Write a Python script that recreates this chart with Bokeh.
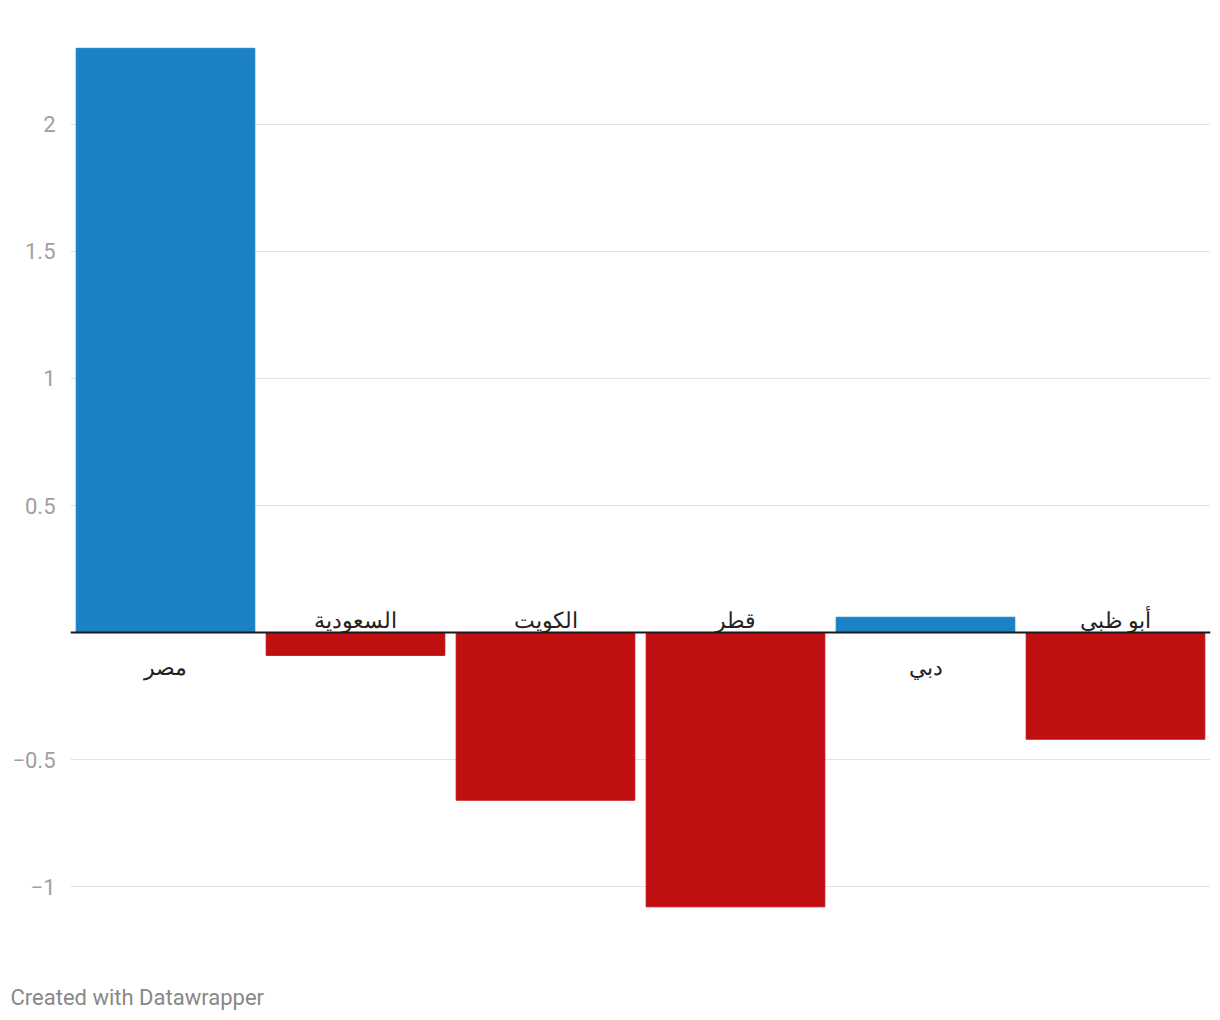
from bokeh.plotting import figure
from bokeh.models import ColumnDataSource, Span, FixedTicker, Title
from bokeh.embed import file_html
from bokeh.resources import INLINE
from bokeh.core.properties import value

categories = ["مصر", "السعودية", "الكويت", "قطر", "دبي", "أبو ظبي"]
values = [2.3, -0.09, -0.66, -1.08, 0.06, -0.42]
tick_values = [-1, -0.5, 0.5, 1, 1.5, 2]
tick_labels = {-1: "−1", -0.5: "−0.5", 0.5: "0.5", 1: "1", 1.5: "1.5", 2: "2"}

BLUE = "#1b82c5"
RED = "#c00f10"

colors = [BLUE if v >= 0 else RED for v in values]
lbl_offset = [33 if v >= 0 else -14 for v in values]
zeros = [0] * len(values)

src = ColumnDataSource(dict(cat=categories, val=values, color=colors,
                            off=lbl_offset, zero=zeros))

p = figure(x_range=categories, y_range=(-1.35039, 2.37795),
           width=1220, height=1020, output_backend="svg", toolbar_location=None,
           min_border_left=70, min_border_right=10, min_border_top=28, min_border_bottom=45)
p.outline_line_color = None
p.background_fill_color = "white"
p.border_fill_color = "white"
p.x_range.range_padding = 0

p.vbar(x="cat", top="val", bottom=0, width=0.94, color="color", source=src)

p.xaxis.visible = False
p.xgrid.visible = False

yaxis = p.yaxis[0]
yaxis.ticker = FixedTicker(ticks=tick_values)
yaxis.major_label_overrides = tick_labels
yaxis.axis_line_color = None
yaxis.major_tick_line_color = None
yaxis.minor_tick_line_color = None
yaxis.major_label_text_color = "#a0a0a0"
yaxis.major_label_text_font = "Roboto"
yaxis.major_label_text_font_size = "22px"
yaxis.major_label_standoff = 9

p.ygrid.ticker = FixedTicker(ticks=tick_values)
p.ygrid.grid_line_color = "#e3e3e3"
p.ygrid.grid_line_width = 1

p.add_layout(Span(location=0, dimension="width", line_color="#1a1a1a", line_width=2))

p.text(x="cat", y="zero", text="cat", y_offset="off", source=src,
       text_align="center", text_baseline="middle",
       text_font=value("Noto Sans"), text_font_size="22px", text_color="#222222")

footer = Title(text="Created with Datawrapper", align="left", offset=-60,
               standoff=14, text_font="Roboto", text_font_size="22px",
               text_font_style="normal", text_color="#888888")
p.add_layout(footer, "below")

open("out.html", "w").write(file_html(p, INLINE))
